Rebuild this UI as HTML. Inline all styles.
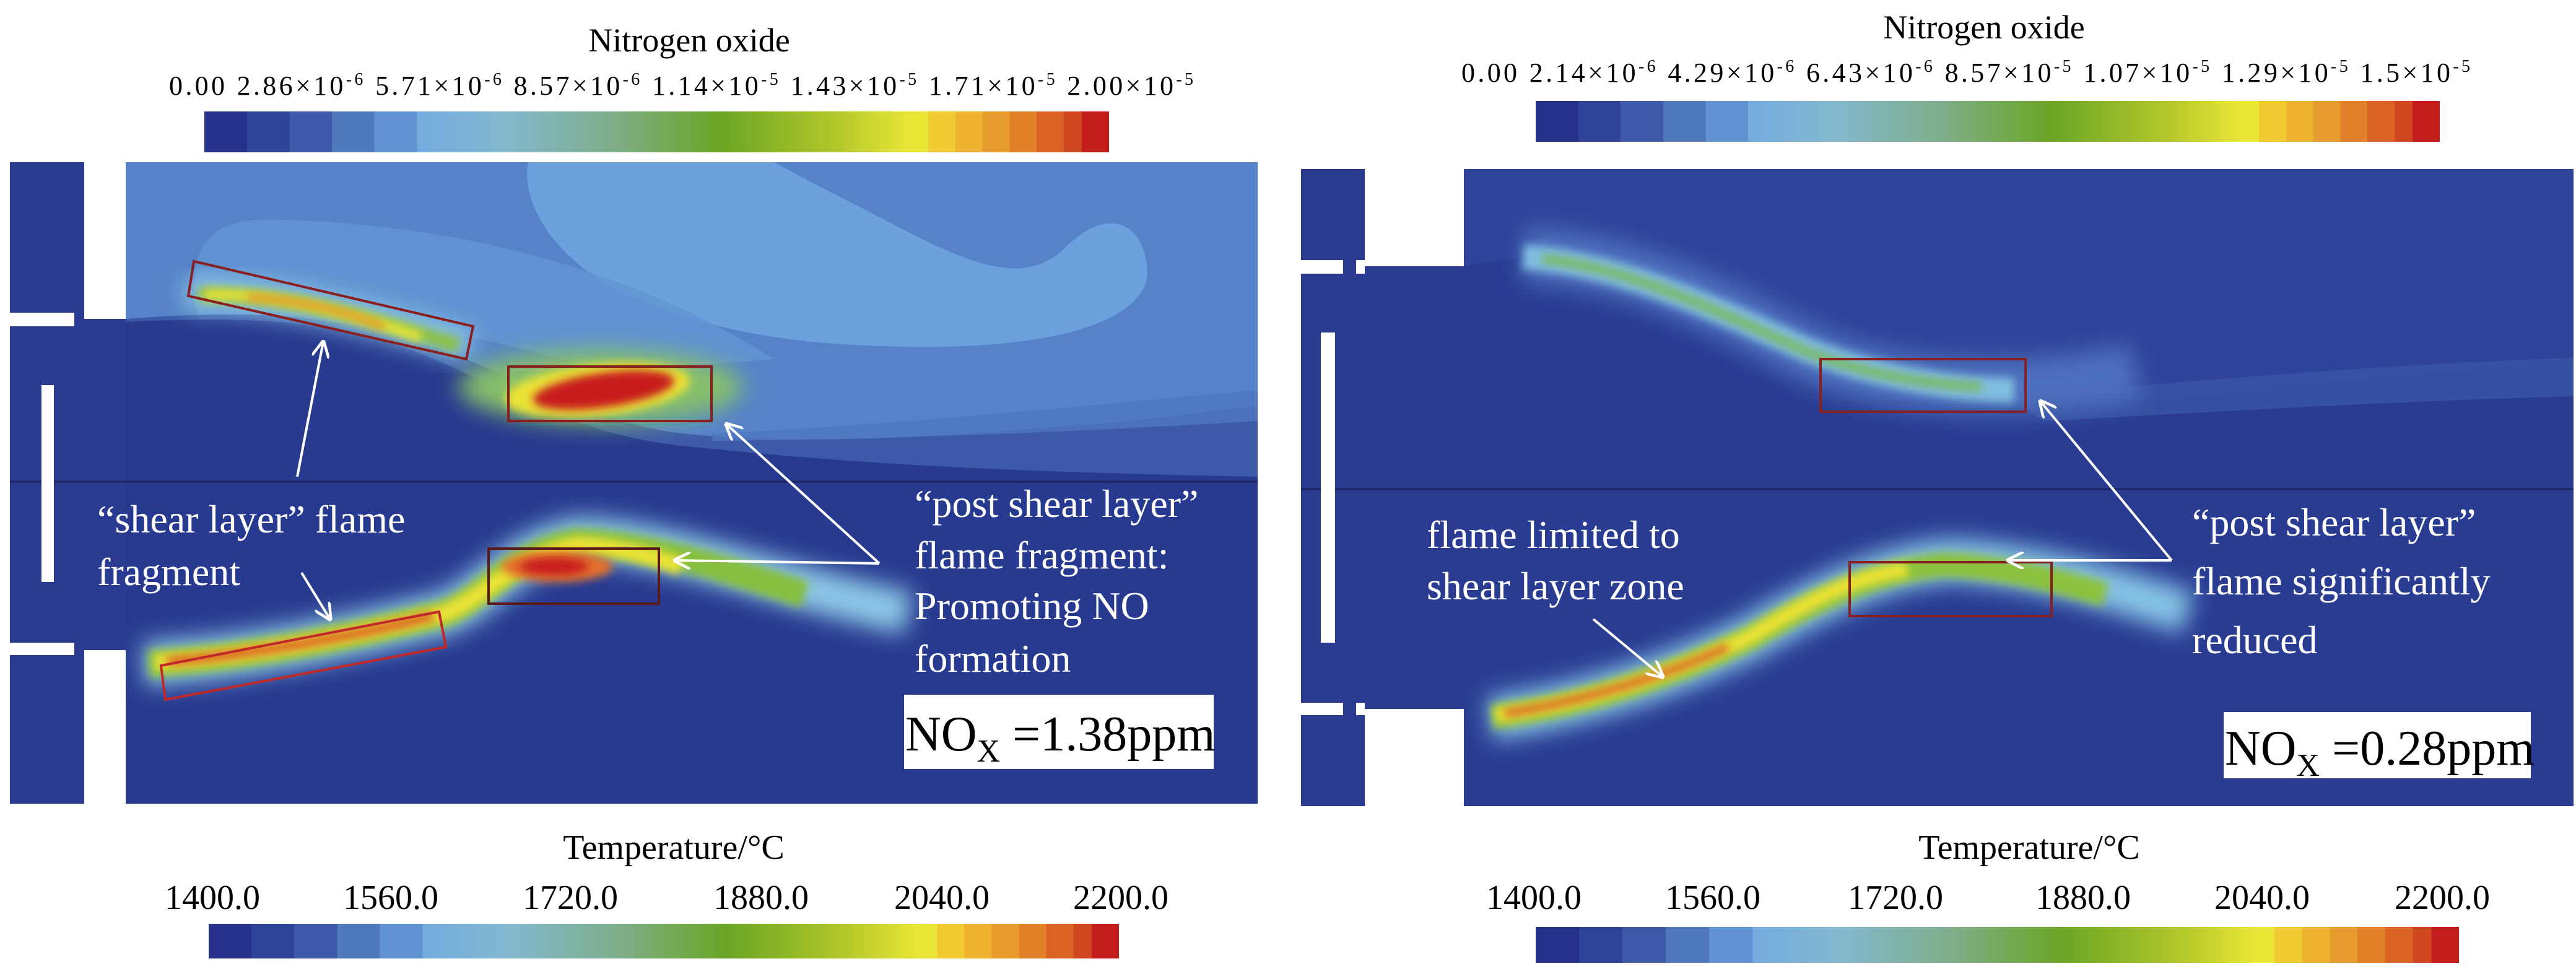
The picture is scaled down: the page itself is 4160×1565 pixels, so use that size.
<!DOCTYPE html>
<html><head><meta charset="utf-8"><style>
html,body{margin:0;padding:0;background:#fff;}
svg{display:block;font-family:"Liberation Serif",serif;}
</style></head><body>
<svg width="4160" height="1565" viewBox="0 0 4160 1565">
<defs>
<linearGradient id="cmap" x1="0" x2="1" y1="0" y2="0">
<stop offset="0" stop-color="#26318c"/><stop offset="0.047" stop-color="#26318c"/>
<stop offset="0.047" stop-color="#2f4399"/><stop offset="0.094" stop-color="#2f4399"/>
<stop offset="0.094" stop-color="#3d59a8"/><stop offset="0.141" stop-color="#3d59a8"/>
<stop offset="0.141" stop-color="#4f78bd"/><stop offset="0.188" stop-color="#4f78bd"/>
<stop offset="0.188" stop-color="#6193d2"/><stop offset="0.235" stop-color="#6193d2"/>
<stop offset="0.235" stop-color="#74acdf"/>
<stop offset="0.33" stop-color="#84b8cf"/>
<stop offset="0.45" stop-color="#7eae8a"/>
<stop offset="0.57" stop-color="#6aa525"/>
<stop offset="0.70" stop-color="#b4c82a"/>
<stop offset="0.78" stop-color="#e9e636"/><stop offset="0.80" stop-color="#e9e636"/>
<stop offset="0.80" stop-color="#f0cc32"/><stop offset="0.83" stop-color="#f0cc32"/>
<stop offset="0.83" stop-color="#eeb430"/><stop offset="0.86" stop-color="#eeb430"/>
<stop offset="0.86" stop-color="#e99c2e"/><stop offset="0.89" stop-color="#e99c2e"/>
<stop offset="0.89" stop-color="#e3812a"/><stop offset="0.92" stop-color="#e3812a"/>
<stop offset="0.92" stop-color="#da6224"/><stop offset="0.95" stop-color="#da6224"/>
<stop offset="0.95" stop-color="#cf461f"/><stop offset="0.97" stop-color="#cf461f"/>
<stop offset="0.97" stop-color="#c41d1c"/><stop offset="1" stop-color="#c41d1c"/>
</linearGradient>
<filter id="b1" x="-20%" y="-50%" width="140%" height="200%"><feGaussianBlur stdDeviation="7"/></filter>
<filter id="b2" x="-20%" y="-50%" width="140%" height="200%"><feGaussianBlur stdDeviation="18"/></filter>
<marker id="ah" viewBox="0 0 10 10" refX="9" refY="5" markerWidth="7" markerHeight="7" orient="auto"><path d="M0,0 L10,5 L0,10" fill="none" stroke="#fff" stroke-width="1.6"/></marker>
</defs>

<!-- ================= LEFT PANEL ================= -->
<g>
<text x="1113" y="83" font-size="54" text-anchor="middle">Nitrogen oxide</text>
<text x="273" y="153" font-size="44" textLength="1654" lengthAdjust="spacing">0.00 2.86×10<tspan font-size="28" dy="-16">-6</tspan><tspan dy="16"> 5.71×10</tspan><tspan font-size="28" dy="-16">-6</tspan><tspan dy="16">  8.57×10</tspan><tspan font-size="28" dy="-16">-6</tspan><tspan dy="16">  1.14×10</tspan><tspan font-size="28" dy="-16">-5</tspan><tspan dy="16"> 1.43×10</tspan><tspan font-size="28" dy="-16">-5</tspan><tspan dy="16"> 1.71×10</tspan><tspan font-size="28" dy="-16">-5</tspan><tspan dy="16"> 2.00×10</tspan><tspan font-size="28" dy="-16">-5</tspan></text>
<rect x="330" y="180" width="1461" height="66" fill="url(#cmap)"/>

<g>
<rect x="16" y="262" width="120" height="1036" fill="#2a3b91"/>
<rect x="136" y="515" width="67" height="535" fill="#2a3b91"/>
<rect x="203" y="262" width="1828" height="1036" fill="#283a8f"/>
<!-- upper half NO field -->
<rect x="203" y="262" width="1828" height="516" fill="#5683c7"/>
<path d="M853,262 C840,330 900,420 1000,470 C1150,540 1300,560 1500,560 C1700,560 1850,520 1853,440 C1850,360 1790,330 1720,400 C1650,470 1550,420 1400,340 C1300,290 1250,262 1250,262 Z" fill="#6ba1dc"/>
<path d="M320,520 C300,400 330,350 450,355 C700,360 1000,420 1250,580 L1000,600 C800,560 600,480 320,520 Z" fill="#6396d3" opacity="0.8"/>
<path d="M203,515 C400,500 540,505 700,560 C850,615 950,680 1100,700 C1300,720 1500,705 1700,690 C1850,680 1950,665 2031,655 L2031,778 L203,778 Z" fill="#3d5aa8"/>
<path d="M203,520 C400,510 540,515 690,575 C840,640 930,700 1100,720 C1300,740 1500,760 2031,770 L2031,778 L203,778 Z" fill="#283a8f"/>
<path d="M1150,700 C1400,690 1700,660 2031,630 L2031,680 C1700,700 1400,710 1150,712 Z" fill="#4f78bd" opacity="0.8"/>
<line x1="16" y1="778" x2="2031" y2="778" stroke="#1a2560" stroke-width="3"/>
<!-- slots and bar -->
<rect x="16" y="505" width="104" height="22" fill="#fff"/>
<rect x="16" y="1038" width="104" height="20" fill="#fff"/>
<rect x="136" y="262" width="67" height="253" fill="#fff"/>
<rect x="136" y="1050" width="67" height="248" fill="#fff"/>
<rect x="67" y="622" width="20" height="318" fill="#fff"/>
</g>

<g>
<path d="M300,475 C420,470 560,500 760,560" stroke="#8cc8e6" stroke-width="50" fill="none" filter="url(#b2)"/>
<path d="M320,476 C440,472 570,505 740,558" stroke="#8cc04a" stroke-width="24" fill="none" filter="url(#b1)"/>
<path d="M330,476 C440,474 550,500 680,545" stroke="#ece434" stroke-width="16" fill="none" filter="url(#b1)"/>
<path d="M400,480 C480,484 550,500 620,528" stroke="#e07a28" stroke-width="8" fill="none" filter="url(#b1)"/>
<ellipse cx="970" cy="625" rx="230" ry="60" fill="#86c06a" filter="url(#b2)"/>
<ellipse cx="965" cy="630" rx="150" ry="42" fill="#eae234" filter="url(#b1)" transform="rotate(-6 965 630)"/>
<ellipse cx="975" cy="630" rx="115" ry="28" fill="#c81e1c" filter="url(#b1)" transform="rotate(-8 975 630)"/>
<polygon points="313,422 764,527 753,580 304,478" fill="none" stroke="#8a1f20" stroke-width="4"/>
<rect x="821" y="592" width="328" height="88" fill="none" stroke="#8a1f20" stroke-width="4"/>
</g>

<g>
<path d="M233,1072 C400,1062 560,1030 720,990 C790,960 830,890 933,870 C1067,870 1267,950 1467,990" stroke="#8cc8e6" stroke-width="70" fill="none" filter="url(#b2)"/>
<path d="M240,1072 C400,1062 560,1030 720,990 C790,960 830,890 933,875 C1067,880 1200,930 1300,960" stroke="#86bf3c" stroke-width="44" fill="none" filter="url(#b1)"/>
<path d="M250,1070 C400,1060 560,1030 720,990 C790,960 830,900 933,880 C1010,885 1060,900 1100,915" stroke="#ebe235" stroke-width="28" fill="none" filter="url(#b1)"/>
<path d="M270,1068 C400,1058 560,1030 700,995" stroke="#d84a20" stroke-width="12" fill="none" filter="url(#b1)"/>
<ellipse cx="900" cy="915" rx="90" ry="25" fill="#e2702a" filter="url(#b1)"/>
<ellipse cx="895" cy="915" rx="55" ry="14" fill="#c81e1c" filter="url(#b1)"/>
<polygon points="260,1075 709,988 720,1045 267,1130" fill="none" stroke="#c0282a" stroke-width="4"/>
<rect x="789" y="886" width="275" height="89" fill="none" stroke="#5a1a1a" stroke-width="4"/>
</g>

<g fill="#fff" font-size="64">
<line x1="480" y1="770" x2="522" y2="552" stroke="#fff" stroke-width="4" marker-end="url(#ah)"/>
<line x1="487" y1="925" x2="533" y2="1000" stroke="#fff" stroke-width="4" marker-end="url(#ah)"/>
<line x1="1420" y1="910" x2="1173" y2="685" stroke="#fff" stroke-width="4" marker-end="url(#ah)"/>
<line x1="1420" y1="910" x2="1090" y2="905" stroke="#fff" stroke-width="4" marker-end="url(#ah)"/>
<text x="157" y="860">“shear layer” flame</text>
<text x="157" y="945">fragment</text>
<text x="1477" y="835">“post shear layer”</text>
<text x="1477" y="918">flame fragment:</text>
<text x="1477" y="1000">Promoting NO</text>
<text x="1477" y="1085">formation</text>
</g>
<rect x="1460" y="1122" width="500" height="120" fill="#fff"/>
<text x="1462" y="1212" font-size="80">NO<tspan font-size="52" dy="18">X</tspan><tspan dy="-18"> =1.38ppm</tspan></text>

<text x="1088" y="1387" font-size="56" text-anchor="middle">Temperature/°C</text>
<g font-size="56">
<text x="266" y="1468">1400.0</text><text x="554" y="1468">1560.0</text><text x="844" y="1468">1720.0</text><text x="1152" y="1468">1880.0</text><text x="1444" y="1468">2040.0</text><text x="1733" y="1468">2200.0</text>
</g>
<rect x="337" y="1492" width="1470" height="56" fill="url(#cmap)"/>
</g>

<!-- ================= RIGHT PANEL ================= -->
<g>
<text x="3204" y="62" font-size="54" text-anchor="middle">Nitrogen oxide</text>
<text x="2360" y="132" font-size="44" textLength="1629" lengthAdjust="spacing">0.00 2.14×10<tspan font-size="28" dy="-16">-6</tspan><tspan dy="16"> 4.29×10</tspan><tspan font-size="28" dy="-16">-6</tspan><tspan dy="16">  6.43×10</tspan><tspan font-size="28" dy="-16">-6</tspan><tspan dy="16">  8.57×10</tspan><tspan font-size="28" dy="-16">-5</tspan><tspan dy="16"> 1.07×10</tspan><tspan font-size="28" dy="-16">-5</tspan><tspan dy="16"> 1.29×10</tspan><tspan font-size="28" dy="-16">-5</tspan><tspan dy="16"> 1.5×10</tspan><tspan font-size="28" dy="-16">-5</tspan></text>
<rect x="2480" y="163" width="1460" height="66" fill="url(#cmap)"/>

<g>
<rect x="2101" y="273" width="103" height="1029" fill="#2a3b91"/>
<rect x="2204" y="430" width="160" height="715" fill="#2a3b91"/>
<rect x="2364" y="273" width="1792" height="1029" fill="#293c92"/>
<path d="M2364,273 L4156,273 L4156,580 C3800,610 3500,650 3300,660 C3000,600 2700,430 2460,415 L2364,430 Z" fill="#2e4399"/>
<path d="M3250,640 C3500,620 3800,590 4156,578 L4156,640 C3800,650 3500,670 3300,680 Z" fill="#3a55a6" opacity="0.8"/>
<line x1="2101" y1="790" x2="4156" y2="790" stroke="#1a2560" stroke-width="3"/>
<rect x="2101" y="420" width="68" height="22" fill="#fff"/>
<rect x="2190" y="420" width="14" height="22" fill="#fff"/>
<rect x="2101" y="1135" width="68" height="20" fill="#fff"/>
<rect x="2190" y="1135" width="14" height="20" fill="#fff"/>
<rect x="2204" y="273" width="160" height="157" fill="#fff"/>
<rect x="2204" y="1145" width="160" height="157" fill="#fff"/>
<rect x="2133" y="537" width="23" height="501" fill="#fff"/>
</g>

<g>
<path d="M2460,412 C2650,420 2800,510 2920,570 C3050,630 3250,640 3450,600" stroke="#4d6fbd" stroke-width="90" fill="none" filter="url(#b2)"/>
<path d="M2460,415 C2613,425 2773,500 2907,560 C3013,605 3150,630 3253,630" stroke="#80bde0" stroke-width="40" fill="none" filter="url(#b1)"/>
<path d="M2490,418 C2620,430 2770,500 2900,560 C2990,600 3100,620 3200,625" stroke="#7ab85a" stroke-width="14" fill="none" filter="url(#b1)"/>
<rect x="2940" y="580" width="331" height="85" fill="none" stroke="#8a1f20" stroke-width="4"/>
</g>

<g>
<path d="M2407,1160 C2547,1140 2680,1100 2827,1030 C2947,960 3040,915 3147,905 C3280,910 3413,950 3533,990" stroke="#86c4e6" stroke-width="70" fill="none" filter="url(#b2)"/>
<path d="M2410,1158 C2547,1140 2680,1100 2827,1030 C2947,960 3040,918 3147,912 C3250,918 3330,940 3400,960" stroke="#8cc23c" stroke-width="40" fill="none" filter="url(#b1)"/>
<path d="M2415,1155 C2547,1138 2680,1098 2827,1028 C2930,965 3000,930 3080,920" stroke="#ebe235" stroke-width="24" fill="none" filter="url(#b1)"/>
<path d="M2430,1152 C2547,1135 2680,1095 2790,1045" stroke="#d44a20" stroke-width="10" fill="none" filter="url(#b1)"/>
<rect x="2987" y="908" width="326" height="87" fill="none" stroke="#8a1f20" stroke-width="4"/>
</g>

<g fill="#fff" font-size="64">
<line x1="2573" y1="1000" x2="2685" y2="1093" stroke="#fff" stroke-width="4" marker-end="url(#ah)"/>
<line x1="3507" y1="905" x2="3295" y2="648" stroke="#fff" stroke-width="4" marker-end="url(#ah)"/>
<line x1="3507" y1="905" x2="3243" y2="905" stroke="#fff" stroke-width="4" marker-end="url(#ah)"/>
<text x="2304" y="885">flame limited to</text>
<text x="2304" y="968">shear layer zone</text>
<text x="3540" y="865">“post shear layer”</text>
<text x="3540" y="960">flame significantly</text>
<text x="3540" y="1055">reduced</text>
</g>
<rect x="3591" y="1150" width="496" height="107" fill="#fff"/>
<text x="3593" y="1235" font-size="80">NO<tspan font-size="52" dy="18">X</tspan><tspan dy="-18"> =0.28ppm</tspan></text>

<text x="3277" y="1387" font-size="56" text-anchor="middle">Temperature/°C</text>
<g font-size="56">
<text x="2400" y="1468">1400.0</text><text x="2689" y="1468">1560.0</text><text x="2984" y="1468">1720.0</text><text x="3287" y="1468">1880.0</text><text x="3576" y="1468">2040.0</text><text x="3867" y="1468">2200.0</text>
</g>
<rect x="2480" y="1497" width="1491" height="58" fill="url(#cmap)"/>
</g>
</svg>
</body></html>
